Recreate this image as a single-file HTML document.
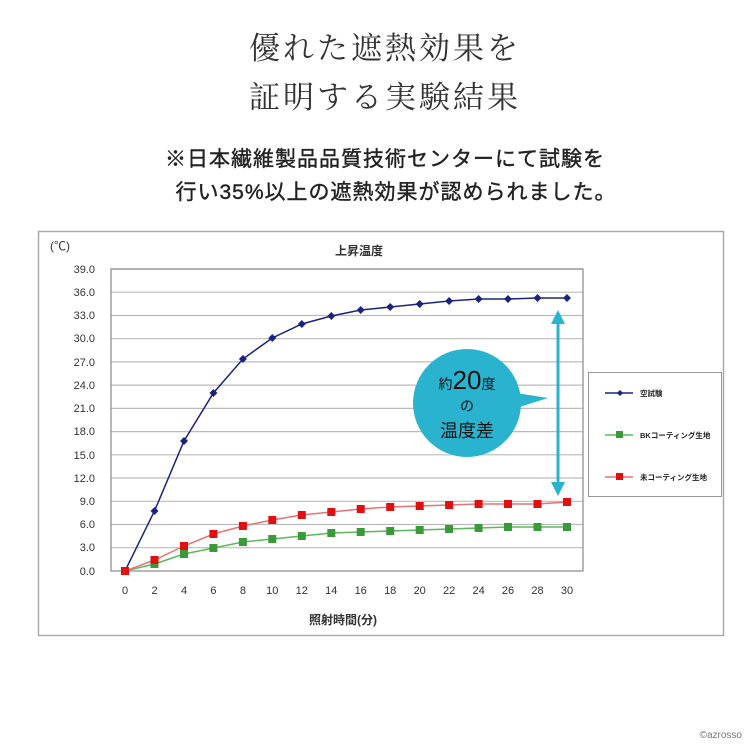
<!DOCTYPE html>
<html><head><meta charset="utf-8"><style>
body{margin:0;background:#fff;width:750px;height:750px;overflow:hidden}
</style></head><body>
<svg width="750" height="750" xmlns="http://www.w3.org/2000/svg" font-family="'Liberation Sans','Noto Sans CJK JP',sans-serif">
<text x="385" y="59" text-anchor="middle" font-size="31" font-family="'Noto Serif CJK SC','Liberation Serif',serif" fill="#333" letter-spacing="3">優れた遮熱効果を</text>
<text x="385" y="108" text-anchor="middle" font-size="31" font-family="'Noto Serif CJK SC','Liberation Serif',serif" fill="#333" letter-spacing="3">証明する実験結果</text>
<text x="385" y="166" text-anchor="middle" font-size="21" fill="#222" letter-spacing="1" stroke="#222" stroke-width="0.4">※日本繊維製品品質技術センターにて試験を</text>
<text x="396" y="199" text-anchor="middle" font-size="21" fill="#222" letter-spacing="1" stroke="#222" stroke-width="0.4">行い35%以上の遮熱効果が認められました。</text>
<rect x="38.5" y="231.5" width="685" height="404" fill="#fff" stroke="#aaa" stroke-width="1.5"/>
<text x="359" y="255" text-anchor="middle" font-size="12" font-weight="bold" fill="#333">上昇温度</text>
<text x="50" y="250" font-size="12" fill="#333">(℃)</text>
<g stroke="#bbb" stroke-width="1.2">
<line x1="111" y1="269" x2="583" y2="269"/><line x1="111" y1="292.2" x2="583" y2="292.2"/><line x1="111" y1="315.5" x2="583" y2="315.5"/><line x1="111" y1="338.7" x2="583" y2="338.7"/><line x1="111" y1="361.9" x2="583" y2="361.9"/><line x1="111" y1="385.1" x2="583" y2="385.1"/><line x1="111" y1="408.4" x2="583" y2="408.4"/><line x1="111" y1="431.6" x2="583" y2="431.6"/><line x1="111" y1="454.8" x2="583" y2="454.8"/><line x1="111" y1="478" x2="583" y2="478"/><line x1="111" y1="501.3" x2="583" y2="501.3"/><line x1="111" y1="524.5" x2="583" y2="524.5"/><line x1="111" y1="547.7" x2="583" y2="547.7"/>
</g>
<rect x="111" y="269" width="472" height="302" fill="none" stroke="#888" stroke-width="1.2"/>
<g font-size="11" fill="#333" text-anchor="end">
<text x="95" y="273">39.0</text><text x="95" y="296">36.0</text><text x="95" y="319">33.0</text><text x="95" y="342">30.0</text><text x="95" y="366">27.0</text><text x="95" y="389">24.0</text><text x="95" y="412">21.0</text><text x="95" y="435">18.0</text><text x="95" y="459">15.0</text><text x="95" y="482">12.0</text><text x="95" y="505">9.0</text><text x="95" y="528">6.0</text><text x="95" y="551">3.0</text><text x="95" y="575">0.0</text>
</g>
<g font-size="11" fill="#333" text-anchor="middle">
<text x="125" y="594">0</text><text x="154.5" y="594">2</text><text x="184" y="594">4</text><text x="213.4" y="594">6</text><text x="242.9" y="594">8</text><text x="272.3" y="594">10</text><text x="301.8" y="594">12</text><text x="331.3" y="594">14</text><text x="360.7" y="594">16</text><text x="390.2" y="594">18</text><text x="419.7" y="594">20</text><text x="449.1" y="594">22</text><text x="478.6" y="594">24</text><text x="508" y="594">26</text><text x="537.5" y="594">28</text><text x="567" y="594">30</text>
</g>
<text x="343" y="624" text-anchor="middle" font-size="12" font-weight="bold" fill="#333">照射時間(分)</text>
<polyline fill="none" stroke="#1a237e" stroke-width="1.5" points="125,571 154.5,511 184,441 213.4,393 242.9,359 272.3,338 301.8,324 331.3,316 360.7,310 390.2,307 419.7,304 449.1,301 478.6,299 508,299 537.5,298 567,298"/>
<g fill="#1a237e">
<path d="M125 567l4 4-4 4-4-4z"/><path d="M154.5 507l4 4-4 4-4-4z"/><path d="M184 437l4 4-4 4-4-4z"/><path d="M213.4 389l4 4-4 4-4-4z"/><path d="M242.9 355l4 4-4 4-4-4z"/><path d="M272.3 334l4 4-4 4-4-4z"/><path d="M301.8 320l4 4-4 4-4-4z"/><path d="M331.3 312l4 4-4 4-4-4z"/><path d="M360.7 306l4 4-4 4-4-4z"/><path d="M390.2 303l4 4-4 4-4-4z"/><path d="M419.7 300l4 4-4 4-4-4z"/><path d="M449.1 297l4 4-4 4-4-4z"/><path d="M478.6 295l4 4-4 4-4-4z"/><path d="M508 295l4 4-4 4-4-4z"/><path d="M537.5 294l4 4-4 4-4-4z"/><path d="M567 294l4 4-4 4-4-4z"/>
</g>
<polyline fill="none" stroke="#5cb85c" stroke-width="1.5" points="125,571 154.5,564 184,554 213.4,548 242.9,542 272.3,539 301.8,536 331.3,533 360.7,532 390.2,531 419.7,530 449.1,529 478.6,528 508,527 537.5,527 567,527"/>
<g fill="#3a9a3a">
<rect x="121" y="567" width="8" height="8"/><rect x="150.5" y="560" width="8" height="8"/><rect x="180" y="550" width="8" height="8"/><rect x="209.4" y="544" width="8" height="8"/><rect x="238.9" y="538" width="8" height="8"/><rect x="268.3" y="535" width="8" height="8"/><rect x="297.8" y="532" width="8" height="8"/><rect x="327.3" y="529" width="8" height="8"/><rect x="356.7" y="528" width="8" height="8"/><rect x="386.2" y="527" width="8" height="8"/><rect x="415.7" y="526" width="8" height="8"/><rect x="445.1" y="525" width="8" height="8"/><rect x="474.6" y="524" width="8" height="8"/><rect x="504" y="523" width="8" height="8"/><rect x="533.5" y="523" width="8" height="8"/><rect x="563" y="523" width="8" height="8"/>
</g>
<polyline fill="none" stroke="#e57373" stroke-width="1.5" points="125,571 154.5,560 184,546 213.4,534 242.9,526 272.3,520 301.8,515 331.3,512 360.7,509 390.2,507 419.7,506 449.1,505 478.6,504 508,504 537.5,504 567,502"/>
<g fill="#e01010">
<rect x="121" y="567" width="8" height="8"/><rect x="150.5" y="556" width="8" height="8"/><rect x="180" y="542" width="8" height="8"/><rect x="209.4" y="530" width="8" height="8"/><rect x="238.9" y="522" width="8" height="8"/><rect x="268.3" y="516" width="8" height="8"/><rect x="297.8" y="511" width="8" height="8"/><rect x="327.3" y="508" width="8" height="8"/><rect x="356.7" y="505" width="8" height="8"/><rect x="386.2" y="503" width="8" height="8"/><rect x="415.7" y="502" width="8" height="8"/><rect x="445.1" y="501" width="8" height="8"/><rect x="474.6" y="500" width="8" height="8"/><rect x="504" y="500" width="8" height="8"/><rect x="533.5" y="500" width="8" height="8"/><rect x="563" y="498" width="8" height="8"/>
</g>
<rect x="588.5" y="372.5" width="133" height="124" fill="#fff" stroke="#999"/>
<line x1="605" y1="393" x2="633" y2="393" stroke="#1a237e" stroke-width="1.5"/><path d="M620 390l3 3-3 3-3-3z" fill="#1a237e"/>
<text x="640" y="396" font-size="7.5" font-weight="bold" fill="#222">空試験</text>
<line x1="605" y1="435" x2="633" y2="435" stroke="#5cb85c" stroke-width="1.5"/><rect x="616" y="431" width="7" height="7" fill="#3a9a3a"/>
<text x="640" y="438" font-size="7.5" font-weight="bold" fill="#222">BKコーティング生地</text>
<line x1="605" y1="477" x2="633" y2="477" stroke="#e57373" stroke-width="1.5"/><rect x="616" y="473" width="7" height="7" fill="#e01010"/>
<text x="640" y="480" font-size="7.5" font-weight="bold" fill="#222">未コーティング生地</text>
<circle cx="467" cy="403" r="54" fill="#2ab3cf"/>
<path d="M510 392 L548 398 L510 410 z" fill="#2ab3cf"/>
<line x1="558" y1="322" x2="558" y2="486" stroke="#2ab3cf" stroke-width="3"/>
<path d="M558 310 L551 324 L565 324 z" fill="#2ab3cf"/>
<path d="M558 496 L551 482 L565 482 z" fill="#2ab3cf"/>
<text x="467" y="389" text-anchor="middle" fill="#111"><tspan font-size="14">約</tspan><tspan font-size="26">20</tspan><tspan font-size="14">度</tspan></text>
<text x="467" y="411" text-anchor="middle" font-size="14" fill="#111">の</text>
<text x="467" y="437" text-anchor="middle" font-size="18" fill="#111">温度差</text>
<text x="742" y="738" text-anchor="end" font-size="10" fill="#777">©azrosso</text>
</svg>
</body></html>
